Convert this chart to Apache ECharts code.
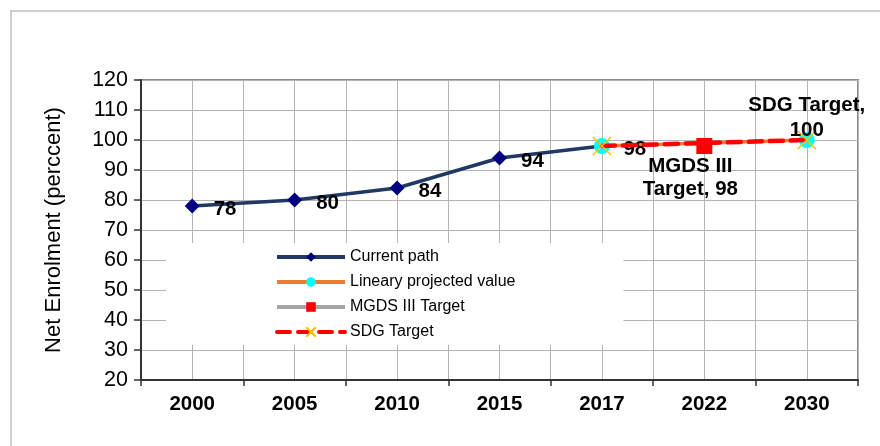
<!DOCTYPE html>
<html>
<head>
<meta charset="utf-8">
<script src="https://cdn.jsdelivr.net/npm/echarts@6/dist/echarts.min.js"></script>
<style>
html,body{margin:0;padding:0;background:#fff;}
#chart{width:880px;height:446px;}
</style>
</head>
<body>
<div id="chart"></div>
<script>
// ---- data ----
const categories = ['2000', '2005', '2010', '2015', '2017', '2022', '2030'];
const currentPath = [78, 80, 84, 94, 98, null, null];
const projectedValue = [null, null, null, null, 98, null, 100];
const mgdsTarget = [null, null, null, null, null, 98, null];
const sdgTarget = [null, null, null, null, 98, null, 100];
const seriesNames = ['Current path', 'Lineary projected value', 'MGDS III Target', 'SDG Target'];
const yMin = 20, yMax = 120, yInterval = 10;
const yAxisTitle = 'Net Enrolment (perccent)';

const chart = echarts.init(document.getElementById('chart'), null, {renderer: 'canvas'});
const ff = 'Liberation Sans, Arial, sans-serif';
const gridColor = '#b4b4b4';

const option = {
  animation: false,
  backgroundColor: '#fff',
  graphic: [{
    type: 'polyline',
    shape: {points: [[11, 446], [11, 11], [880, 11]]},
    style: {stroke: '#cfcfcf', lineWidth: 2, fill: null},
    silent: true, z: 0
  }],
  grid: {
    left: 141, right: 22, top: 80, bottom: 66,
    show: true, borderColor: '#8c8c8c', borderWidth: 2, backgroundColor: 'transparent'
  },
  legend: {
    orient: 'vertical',
    left: 166, top: 243,
    data: seriesNames,
    itemWidth: 68, itemHeight: 12, itemGap: 9,
    padding: [6, 108, 5, 109],
    backgroundColor: '#fff',
    lineStyle: {width: 4},
    textStyle: {fontFamily: ff, fontSize: 16, color: '#000'},
    z: 10
  },
  xAxis: [{
    type: 'category',
    data: categories,
    boundaryGap: true,
    axisLine: {lineStyle: {color: '#333', width: 2}},
    axisTick: {show: true, length: 6, lineStyle: {color: '#333', width: 1.5}},
    axisLabel: {fontFamily: ff, fontSize: 20.5, fontWeight: 'bold', color: '#000', margin: 14},
    splitLine: {show: false}
  }, {
    type: 'value',
    min: 0, max: categories.length * 2, interval: 1,
    show: true,
    axisLine: {show: false}, axisTick: {show: false}, axisLabel: {show: false},
    splitLine: {show: true, lineStyle: {color: gridColor, width: 1}}
  }],
  yAxis: {
    type: 'value',
    min: yMin, max: yMax, interval: yInterval,
    name: yAxisTitle,
    nameLocation: 'middle',
    nameGap: 76,
    nameRotate: 90,
    nameTextStyle: {fontFamily: ff, fontSize: 22, color: '#000'},
    axisLine: {show: true, lineStyle: {color: '#333', width: 2}},
    axisTick: {show: true, length: 7, lineStyle: {color: '#333', width: 1.5}},
    axisLabel: {fontFamily: ff, fontSize: 21.5, color: '#000', margin: 13},
    splitLine: {show: true, lineStyle: {color: gridColor, width: 1}}
  },
  series: [{
    name: seriesNames[0],
    type: 'line',
    data: currentPath,
    symbol: 'diamond', symbolSize: 15,
    lineStyle: {color: '#1F3864', width: 3.5},
    itemStyle: {color: '#000080'},
    label: {show: true, position: 'right', distance: 14, offset: [0, 3],
      fontFamily: ff, fontSize: 20.5, fontWeight: 'bold', color: '#000'},
    z: 3
  }, {
    name: seriesNames[1],
    type: 'line',
    data: projectedValue,
    connectNulls: true,
    symbol: 'circle', symbolSize: 16,
    lineStyle: {color: '#ED7D31', width: 3.5},
    itemStyle: {color: '#00FFFF'},
    z: 3
  }, {
    name: seriesNames[2],
    type: 'line',
    data: mgdsTarget,
    symbol: 'rect', symbolSize: 16,
    lineStyle: {color: '#A5A5A5', width: 3.5},
    itemStyle: {color: '#FF0000'},
    label: {show: true, position: 'bottom', distance: 1, offset: [-14, 0],
      formatter: 'MGDS III\nTarget, {c}', lineHeight: 23, align: 'center',
      fontFamily: ff, fontSize: 20.5, fontWeight: 'bold', color: '#000'},
    z: 6
  }, {
    name: seriesNames[3],
    type: 'line',
    data: sdgTarget,
    connectNulls: true,
    symbol: 'path://M0,0L10,10M10,0L0,10', symbolSize: 18,
    lineStyle: {color: '#FF0000', width: 4.5, type: [13, 8], cap: 'round'},
    itemStyle: {color: 'transparent', borderColor: '#FFC000', borderWidth: 1.5},
    label: {show: true, position: 'top', distance: -13, align: 'center', lineHeight: 25,
      formatter: p => p.dataIndex === categories.length - 1 ? p.seriesName + ',\n' + p.value : '',
      fontFamily: ff, fontSize: 20.5, fontWeight: 'bold', color: '#000'},
    z: 4
  }]
};
chart.setOption(option);
</script>
</body>
</html>
